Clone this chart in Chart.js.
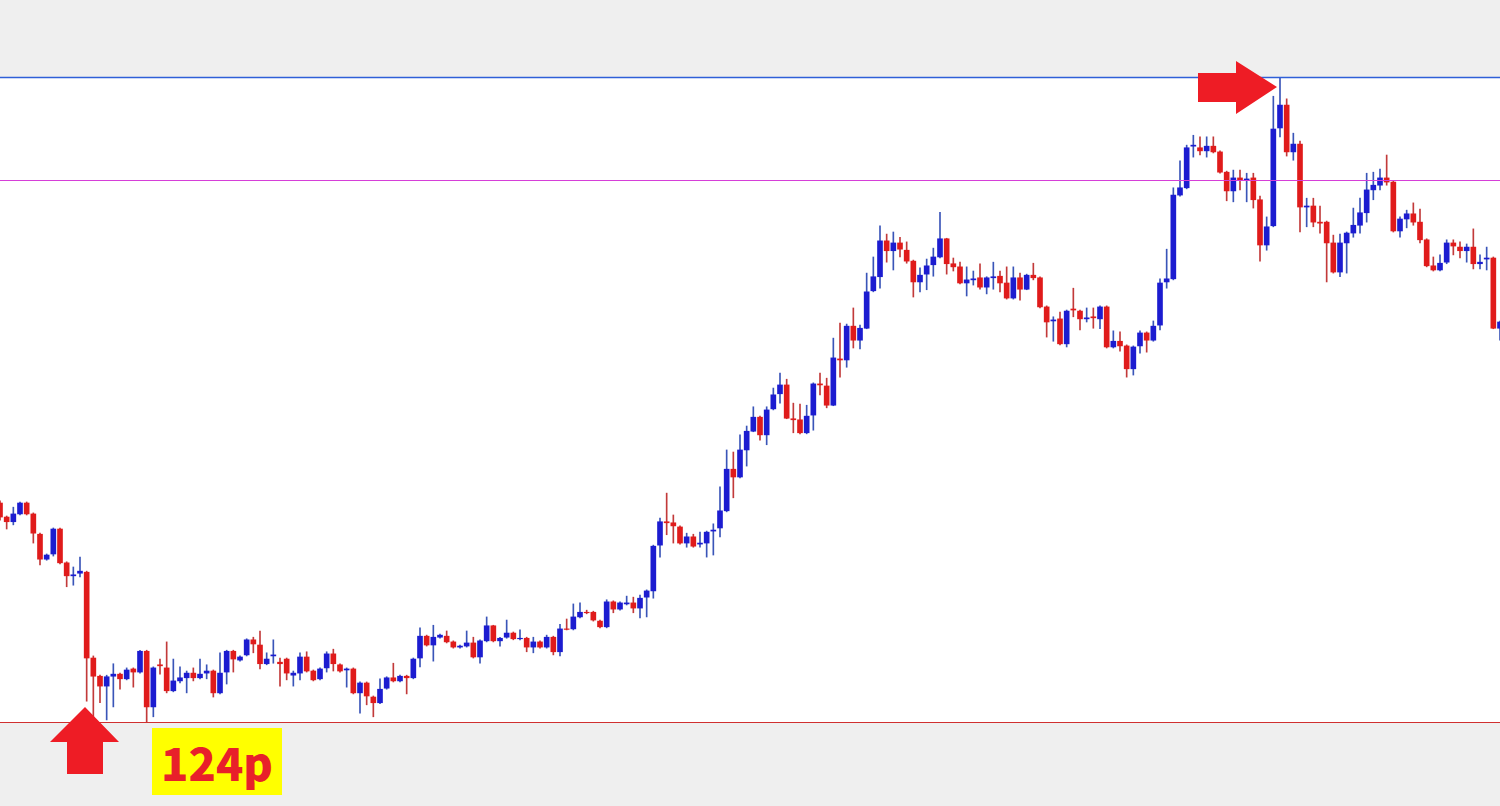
<!DOCTYPE html>
<html>
<head>
<meta charset="utf-8">
<script src="https://cdn.jsdelivr.net/npm/chart.js@4.4.1/dist/chart.umd.min.js"></script>
<style>
  html, body { margin: 0; padding: 0; background: #efefef; overflow: hidden; }
  #wrap { position: relative; width: 1500px; height: 806px; }
  #chart { position: absolute; left: 0; top: 0; }
  #pips {
    position: absolute; left: 152px; top: 728px; width: 130px; height: 67px;
    background: #ffff00; color: #e8202a;
    font-family: "Noto Sans CJK JP", "Liberation Sans", sans-serif;
    font-weight: 900; font-size: 45px; line-height: 67px; text-align: center;
  }
</style>
</head>
<body>
<div id="wrap">
  <canvas id="chart" width="1500" height="806"></canvas>
  <div id="pips">124p</div>
</div>
<script>
// prices in pips above the period low (0 = low, 124 = high)
const opens = [
  42.1, 39.4, 38.5, 40.0, 42.1, 40.0, 36.1, 31.3, 32.3, 37.1,
  30.6, 28.1, 28.6, 28.8, 12.3, 8.8, 6.9, 8.8, 9.2, 8.3,
  10.2, 9.6, 13.6, 2.9, 11.0, 10.4, 6.0, 7.9, 8.5, 9.4,
  8.5, 9.4, 9.8, 5.6, 9.6, 13.6, 11.9, 12.9, 15.8, 14.8,
  11.2, 12.7, 11.5, 12.1, 9.0, 9.4, 12.5, 9.8, 8.3, 10.4,
  13.1, 11.0, 10.0, 10.2, 5.6, 7.5, 4.8, 3.7, 6.5, 8.5,
  7.9, 8.8, 8.5, 12.3, 16.5, 14.8, 16.3, 16.5, 15.4, 14.4,
  14.6, 15.2, 12.5, 15.6, 18.5, 15.6, 16.3, 17.1, 16.0, 16.1,
  14.4, 15.4, 14.4, 16.3, 13.5, 17.9, 17.9, 20.2, 21.1, 21.1,
  19.4, 18.3, 23.1, 21.7, 22.7, 22.9, 21.9, 24.0, 25.2, 34.0,
  38.5, 38.3, 37.5, 34.4, 35.6, 34.2, 34.4, 36.7, 37.3, 40.6,
  48.6, 47.1, 52.3, 55.9, 58.6, 55.2, 60.2, 63.1, 64.8, 58.3,
  58.1, 55.6, 59.0, 65.0, 64.6, 60.9, 69.8, 69.6, 76.1, 73.4,
  75.7, 82.9, 85.6, 92.5, 90.6, 92.1, 90.7, 88.6, 84.6, 86.1,
  87.9, 89.4, 92.9, 88.1, 87.5, 84.4, 85.0, 85.4, 83.6, 85.4,
  85.7, 84.4, 81.5, 85.4, 83.2, 85.9, 85.4, 79.8, 77.1, 77.5,
  72.7, 79.4, 79.0, 77.5, 77.9, 77.5, 79.8, 72.1, 73.2, 72.3,
  67.9, 72.3, 74.8, 73.4, 76.3, 84.6, 85.2, 101.3, 102.7, 110.7,
  110.4, 109.8, 110.7, 109.6, 105.7, 102.1, 104.6, 104.2, 104.6, 100.4,
  91.7, 95.4, 114.2, 118.6, 109.6, 111.1, 99.0, 99.2, 96.1, 96.1,
  92.1, 86.5, 92.1, 94.0, 95.5, 97.9, 102.3, 103.2, 104.6, 103.8,
  94.4, 96.7, 97.7, 96.1, 92.7, 87.7, 86.9, 88.4, 92.1, 91.3,
  90.6, 91.3, 88.1, 89.0, 89.2, 75.7
];
const highs = [
  42.5, 39.6, 41.3, 42.3, 42.3, 40.2, 36.3, 32.3, 37.3, 37.3,
  30.8, 29.8, 31.7, 29.0, 12.7, 9.0, 9.0, 11.2, 9.4, 10.4,
  10.4, 13.8, 13.8, 10.6, 12.1, 15.4, 12.1, 10.6, 9.8, 10.4,
  12.1, 11.0, 10.0, 13.3, 13.8, 13.8, 12.7, 16.0, 16.3, 17.5,
  13.3, 15.8, 12.3, 12.3, 9.8, 13.3, 13.5, 10.0, 10.4, 13.5,
  14.0, 11.2, 10.4, 10.4, 7.7, 7.7, 5.0, 8.3, 8.7, 11.3,
  9.0, 9.0, 12.3, 18.1, 16.7, 18.6, 16.9, 17.5, 15.6, 14.8,
  17.5, 16.3, 15.8, 20.2, 18.6, 16.3, 19.6, 17.3, 17.7, 16.3,
  16.3, 15.6, 16.7, 16.5, 18.8, 19.8, 22.7, 22.9, 21.5, 21.3,
  19.6, 23.5, 23.3, 23.1, 24.2, 24.0, 24.4, 25.4, 34.0, 39.2,
  44.0, 39.8, 37.7, 36.3, 36.1, 36.5, 36.7, 38.1, 45.2, 52.3,
  51.9, 55.2, 56.9, 60.6, 58.8, 60.6, 64.2, 67.1, 65.9, 61.3,
  61.1, 60.9, 65.2, 67.1, 66.1, 73.8, 76.7, 76.5, 79.6, 76.3,
  86.3, 89.4, 95.4, 93.8, 94.2, 93.2, 92.3, 88.8, 87.3, 89.0,
  91.1, 98.0, 93.0, 89.2, 88.4, 87.5, 86.7, 88.1, 85.6, 88.4,
  86.7, 87.5, 87.5, 86.3, 86.1, 88.2, 85.6, 80.0, 77.9, 78.8,
  79.2, 83.4, 79.2, 79.6, 79.6, 80.0, 80.0, 75.2, 75.0, 72.5,
  72.3, 75.2, 75.0, 77.1, 85.2, 90.9, 102.7, 107.9, 110.9, 112.8,
  112.5, 112.5, 112.5, 109.8, 105.9, 106.1, 106.1, 105.5, 105.5, 101.1,
  97.1, 120.3, 124.0, 119.8, 113.2, 111.7, 100.7, 100.7, 99.2, 96.3,
  93.6, 93.8, 94.2, 98.8, 100.7, 105.5, 105.7, 106.3, 109.0, 104.0,
  97.1, 98.4, 99.8, 98.6, 92.9, 89.4, 89.8, 92.7, 92.7, 92.3,
  91.9, 94.8, 89.8, 91.3, 89.4, 77.1
];
const lows = [
  38.8, 37.1, 37.9, 39.8, 39.8, 34.4, 30.2, 31.1, 31.9, 30.4,
  26.0, 26.3, 27.9, 4.0, 0.8, 3.7, 0.4, 2.9, 6.3, 8.1,
  6.7, 9.4, 0.0, 1.0, 9.2, 5.6, 5.8, 7.5, 5.6, 7.9,
  8.3, 8.3, 4.8, 5.4, 7.3, 9.6, 11.7, 12.7, 13.3, 10.2,
  11.0, 11.3, 6.9, 8.1, 6.9, 8.1, 9.6, 7.9, 8.1, 9.6,
  9.8, 9.6, 6.7, 5.4, 1.7, 3.3, 1.0, 3.5, 6.3, 7.7,
  7.7, 5.4, 8.3, 10.6, 14.6, 11.7, 16.1, 15.2, 14.2, 14.2,
  14.4, 12.3, 11.3, 15.4, 15.4, 14.6, 16.1, 15.8, 15.8, 13.5,
  13.3, 14.2, 14.2, 12.9, 12.7, 17.7, 17.7, 20.0, 20.8, 19.4,
  18.1, 18.1, 21.0, 21.5, 22.5, 21.0, 20.0, 20.2, 23.8, 31.7,
  36.0, 34.4, 34.2, 33.6, 33.6, 33.6, 31.7, 32.1, 35.6, 40.4,
  43.1, 46.9, 49.2, 55.8, 54.2, 53.3, 60.0, 61.3, 58.3, 55.6,
  55.4, 55.4, 56.1, 62.9, 60.4, 60.8, 66.3, 68.2, 71.9, 71.7,
  75.6, 82.7, 83.4, 88.4, 86.9, 89.4, 88.2, 81.7, 82.7, 83.1,
  85.7, 89.2, 86.1, 86.7, 84.2, 81.9, 84.0, 83.2, 82.3, 83.2,
  82.7, 81.3, 81.3, 81.1, 83.1, 85.0, 79.6, 74.0, 73.2, 72.5,
  72.1, 77.9, 75.4, 76.9, 75.7, 75.6, 71.9, 71.9, 71.3, 66.3,
  66.7, 70.9, 71.1, 73.2, 75.4, 83.4, 85.0, 101.1, 102.5, 108.6,
  109.0, 108.6, 109.4, 105.5, 100.2, 100.0, 102.3, 100.0, 98.8, 88.6,
  90.7, 95.2, 112.5, 108.8, 108.0, 94.2, 95.2, 95.2, 94.0, 84.6,
  86.3, 85.6, 86.3, 93.2, 94.0, 96.1, 100.4, 102.3, 103.2, 94.2,
  93.2, 95.0, 95.5, 92.1, 87.5, 86.7, 86.7, 88.1, 89.8, 89.2,
  88.4, 87.1, 87.1, 86.9, 75.6, 73.4
];
const closes = [
  39.4, 38.5, 40.0, 42.1, 40.0, 36.3, 31.3, 32.1, 37.1, 30.6,
  28.1, 28.3, 29.0, 12.3, 8.8, 6.9, 8.7, 9.2, 8.3, 10.0,
  9.6, 13.6, 2.9, 10.4, 10.8, 6.0, 7.9, 8.5, 9.4, 8.5,
  9.2, 9.8, 5.6, 9.4, 13.6, 12.1, 12.5, 15.8, 15.0, 11.2,
  12.1, 12.9, 11.2, 9.4, 9.4, 12.5, 9.8, 8.1, 10.2, 13.1,
  11.2, 9.8, 10.2, 5.6, 7.5, 5.0, 3.7, 6.3, 8.5, 7.9,
  8.8, 8.5, 12.1, 16.5, 14.8, 16.3, 16.7, 15.4, 14.4, 14.6,
  15.2, 12.5, 15.6, 18.5, 15.6, 16.1, 17.1, 16.0, 16.1, 14.4,
  15.4, 14.4, 16.3, 13.5, 17.9, 17.8, 20.2, 21.1, 21.0, 19.6,
  18.3, 23.1, 21.7, 22.9, 22.9, 21.9, 23.8, 25.2, 33.8, 38.5,
  38.3, 37.7, 34.4, 35.6, 33.8, 34.4, 36.5, 36.9, 40.6, 48.6,
  47.1, 52.3, 55.9, 58.6, 55.2, 60.0, 62.9, 64.8, 58.4, 58.1,
  55.6, 58.8, 65.0, 64.8, 60.9, 70.0, 69.6, 76.1, 73.4, 75.7,
  82.7, 85.6, 92.5, 90.6, 92.1, 90.9, 88.6, 84.6, 85.9, 87.7,
  89.4, 92.9, 88.1, 87.5, 84.4, 85.0, 85.2, 83.6, 85.4, 85.6,
  84.4, 81.5, 85.4, 83.2, 85.9, 85.4, 79.8, 76.9, 77.3, 72.7,
  79.0, 79.2, 77.5, 77.7, 77.7, 79.8, 72.1, 73.2, 72.3, 67.9,
  72.1, 74.8, 73.4, 76.1, 84.4, 85.2, 101.3, 102.7, 110.4, 110.9,
  109.8, 110.7, 109.6, 105.7, 102.1, 104.6, 104.2, 104.4, 100.4, 91.7,
  95.2, 114.0, 118.6, 109.6, 111.1, 99.0, 99.2, 96.1, 95.9, 92.1,
  86.5, 92.1, 94.0, 95.5, 97.9, 102.3, 103.2, 104.6, 103.8, 94.4,
  96.7, 97.7, 96.1, 92.7, 87.7, 86.9, 88.2, 92.1, 91.5, 90.6,
  91.3, 88.1, 88.4, 89.2, 75.7, 76.9
];

// horizontal reference levels (pips)
const highLevel = 124;
const midLevel = 104.2;
const lowLevel = 0;

const UP = '#1c1cd0', DOWN = '#e01b1b';
const UP_WICK = '#3a55b8', DOWN_WICK = '#c23a3a';

const labels = opens.map((_, i) => i);
const isUp = opens.map((o, i) => closes[i] >= o);

const frame = {
  id: 'frame',
  beforeDatasetsDraw(chart) {
    const { ctx, chartArea: a } = chart;
    ctx.save();
    ctx.fillStyle = '#ffffff';
    ctx.fillRect(a.left, a.top, a.right - a.left, a.bottom - a.top);
    ctx.restore();
  },
  afterDatasetsDraw(chart) {
    const { ctx, chartArea: a, scales: { y } } = chart;
    const hline = (v, color, w) => {
      const py = Math.round(y.getPixelForValue(v)) + 0.5;
      ctx.strokeStyle = color;
      ctx.lineWidth = w || 1;
      ctx.beginPath();
      ctx.moveTo(a.left, py);
      ctx.lineTo(a.right, py);
      ctx.stroke();
    };
    ctx.save();
    hline(midLevel, '#d63fd8');
    hline(lowLevel, '#d03030');
    hline(highLevel, '#2f5fd8', 1.5);

    // arrows marking the low and the high
    ctx.fillStyle = '#ee1c25';
    ctx.beginPath();
    ctx.moveTo(85, 707);
    ctx.lineTo(119, 742);
    ctx.lineTo(103, 742);
    ctx.lineTo(103, 774);
    ctx.lineTo(67, 774);
    ctx.lineTo(67, 742);
    ctx.lineTo(50, 742);
    ctx.closePath();
    ctx.fill();

    ctx.beginPath();
    ctx.moveTo(1277, 87);
    ctx.lineTo(1236, 114);
    ctx.lineTo(1236, 102);
    ctx.lineTo(1198, 102);
    ctx.lineTo(1198, 73);
    ctx.lineTo(1236, 73);
    ctx.lineTo(1236, 61);
    ctx.closePath();
    ctx.fill();
    ctx.restore();
  }
};

new Chart(document.getElementById('chart'), {
  type: 'bar',
  data: {
    labels: labels,
    datasets: [
      {
        label: 'wick',
        data: lows.map((l, i) => [l, highs[i]]),
        backgroundColor: isUp.map(u => u ? UP_WICK : DOWN_WICK),
        barThickness: 1,
        grouped: false,
        order: 2
      },
      {
        label: 'body',
        data: opens.map((o, i) => [o, closes[i]]),
        backgroundColor: isUp.map(u => u ? UP : DOWN),
        barThickness: 5,
        grouped: false,
        order: 1
      }
    ]
  },
  options: {
    responsive: false,
    animation: false,
    layout: { padding: { top: 77, bottom: 84, left: 0, right: 0 } },
    plugins: { legend: { display: false }, tooltip: { enabled: false } },
    scales: {
      x: { display: false, offset: false, grid: { offset: false } },
      y: { display: false, min: 0, max: 124 }
    }
  },
  plugins: [frame]
});
</script>
</body>
</html>
